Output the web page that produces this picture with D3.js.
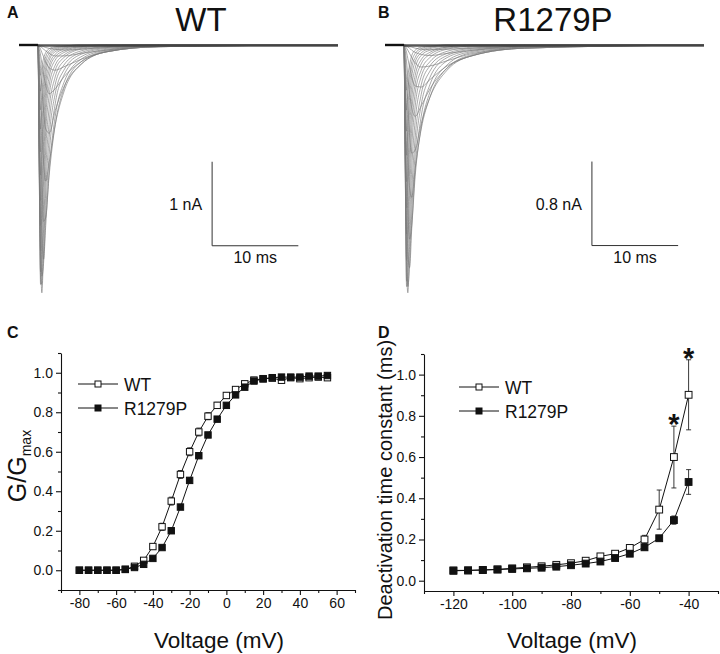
<!DOCTYPE html>
<html><head><meta charset="utf-8">
<script src="https://cdn.jsdelivr.net/npm/d3@7"></script>
<style>
body{margin:0;background:#fff}
svg{display:block}
text{font-family:"Liberation Sans",Arial,Helvetica,sans-serif;fill:#111}
</style>
</head><body>
<svg id="fig" width="720" height="654"></svg>
<script>
// ---------- Panel A/B: current traces (time in ms from step, current in nA) ----------
const traceTimes = [-2.2, 0, 0.15, 0.3, 0.45, 0.65, 0.9, 1.3, 2, 3, 5, 8, 14, 34.8];
const wtTraces = [
  [0,0,0,-0.01,-0.01,-0.02,-0.03,-0.04,-0.05,-0.06,-0.05,-0.03,-0.01,0],
  [0,0,-0.01,-0.02,-0.03,-0.05,-0.07,-0.10,-0.13,-0.13,-0.10,-0.06,-0.02,0],
  [0,0,-0.02,-0.05,-0.09,-0.14,-0.2,-0.27,-0.3,-0.26,-0.17,-0.08,-0.02,0],
  [0,0,-0.05,-0.12,-0.22,-0.35,-0.48,-0.58,-0.52,-0.38,-0.2,-0.08,-0.02,0],
  [0,0,-0.1,-0.28,-0.5,-0.78,-1.0,-1.05,-0.78,-0.5,-0.23,-0.08,-0.02,0],
  [0,0,-0.2,-0.55,-0.95,-1.38,-1.62,-1.4,-0.95,-0.56,-0.23,-0.08,-0.02,0],
  [0,0,-0.38,-1.0,-1.6,-2.1,-2.05,-1.55,-0.95,-0.52,-0.2,-0.07,-0.015,0],
  [0,0,-0.6,-1.5,-2.25,-2.55,-2.15,-1.5,-0.85,-0.45,-0.17,-0.06,-0.01,0],
  [0,0,-0.85,-2.0,-2.75,-2.6,-2.0,-1.3,-0.7,-0.36,-0.14,-0.05,-0.01,0],
  [0,0,-1.1,-2.45,-2.95,-2.45,-1.75,-1.1,-0.58,-0.3,-0.11,-0.04,-0.01,0],
  [0,0,-1.35,-2.75,-2.85,-2.2,-1.5,-0.92,-0.47,-0.24,-0.09,-0.03,0,0],
  [0,0,-1.5,-2.85,-2.6,-1.9,-1.25,-0.75,-0.38,-0.19,-0.07,-0.02,0,0],
  [0,0,-1.55,-2.7,-2.3,-1.62,-1.03,-0.6,-0.3,-0.15,-0.05,-0.02,0,0],
  [0,0,-1.5,-2.45,-2.0,-1.38,-0.85,-0.48,-0.24,-0.12,-0.04,-0.01,0,0],
  [0,0,-1.4,-2.15,-1.72,-1.15,-0.7,-0.38,-0.18,-0.09,-0.03,-0.01,0,0],
  [0,0,-1.25,-1.85,-1.45,-0.95,-0.56,-0.3,-0.14,-0.07,-0.02,0,0,0],
  [0,0,-1.1,-1.55,-1.2,-0.77,-0.45,-0.24,-0.11,-0.05,-0.02,0,0,0],
  [0,0,-0.92,-1.27,-0.97,-0.61,-0.35,-0.18,-0.08,-0.04,-0.01,0,0,0],
  [0,0,-0.75,-1.0,-0.75,-0.47,-0.27,-0.14,-0.06,-0.03,-0.01,0,0,0],
  [0,0,-0.58,-0.77,-0.57,-0.35,-0.2,-0.1,-0.045,-0.02,0,0,0,0],
  [0,0,-0.42,-0.55,-0.4,-0.25,-0.14,-0.07,-0.03,-0.015,0,0,0,0],
  [0,0,-0.28,-0.36,-0.26,-0.16,-0.09,-0.045,-0.02,-0.01,0,0,0,0]
];
const mutTraces = [
  [0,0,0,-0.01,-0.01,-0.015,-0.02,-0.03,-0.04,-0.045,-0.04,-0.03,-0.01,0],
  [0,0,-0.005,-0.01,-0.02,-0.03,-0.05,-0.07,-0.09,-0.1,-0.08,-0.05,-0.02,0],
  [0,0,-0.01,-0.03,-0.05,-0.08,-0.12,-0.17,-0.21,-0.2,-0.15,-0.08,-0.03,0],
  [0,0,-0.03,-0.07,-0.13,-0.21,-0.3,-0.39,-0.4,-0.33,-0.2,-0.1,-0.03,0],
  [0,0,-0.06,-0.16,-0.3,-0.46,-0.6,-0.68,-0.58,-0.42,-0.22,-0.1,-0.03,0],
  [0,0,-0.12,-0.33,-0.58,-0.86,-1.03,-1.0,-0.75,-0.5,-0.24,-0.1,-0.03,0],
  [0,0,-0.22,-0.6,-1.0,-1.36,-1.45,-1.18,-0.8,-0.5,-0.22,-0.09,-0.02,0],
  [0,0,-0.38,-0.98,-1.5,-1.85,-1.72,-1.25,-0.78,-0.45,-0.19,-0.07,-0.02,0],
  [0,0,-0.58,-1.4,-1.98,-2.12,-1.75,-1.18,-0.68,-0.38,-0.15,-0.06,-0.01,0],
  [0,0,-0.8,-1.78,-2.3,-2.1,-1.6,-1.03,-0.57,-0.31,-0.12,-0.05,-0.01,0],
  [0,0,-1.0,-2.1,-2.36,-1.92,-1.4,-0.88,-0.47,-0.25,-0.1,-0.04,-0.01,0],
  [0,0,-1.15,-2.3,-2.2,-1.68,-1.18,-0.72,-0.38,-0.2,-0.08,-0.03,0,0],
  [0,0,-1.22,-2.25,-1.95,-1.43,-0.97,-0.58,-0.3,-0.16,-0.06,-0.02,0,0],
  [0,0,-1.2,-2.05,-1.68,-1.2,-0.8,-0.46,-0.24,-0.12,-0.04,-0.01,0,0],
  [0,0,-1.12,-1.8,-1.42,-1.0,-0.64,-0.37,-0.18,-0.09,-0.03,-0.01,0,0],
  [0,0,-1.0,-1.55,-1.18,-0.8,-0.51,-0.29,-0.14,-0.07,-0.02,0,0,0],
  [0,0,-0.87,-1.3,-0.97,-0.64,-0.4,-0.22,-0.1,-0.05,-0.02,0,0,0],
  [0,0,-0.73,-1.05,-0.77,-0.5,-0.3,-0.16,-0.075,-0.035,-0.01,0,0,0],
  [0,0,-0.58,-0.82,-0.6,-0.38,-0.22,-0.12,-0.05,-0.025,0,0,0,0],
  [0,0,-0.45,-0.62,-0.44,-0.28,-0.16,-0.08,-0.035,-0.015,0,0,0,0],
  [0,0,-0.32,-0.43,-0.3,-0.19,-0.1,-0.05,-0.02,-0.01,0,0,0,0]
];
// scale bars: [time start ms, current at bar bottom nA, time length ms, current length nA]
const wtScaleBar = [20.2, -2.39, 10, 1.0];
const mutScaleBar = [21.8, -1.91, 10, 0.8];
const wtBarLabels = ["1 nA", "10 ms"];
const mutBarLabels = ["0.8 nA", "10 ms"];

// ---------- Panel C: G/Gmax vs voltage ----------
const gvVoltages = [-80,-75,-70,-65,-60,-55,-50,-45,-40,-35,-30,-25,-20,-15,-10,-5,0,5,10,15,20,25,30,35,40,45,50,55];
const gvWT = [0,0,0,0,0,0.004,0.02,0.05,0.12,0.22,0.35,0.485,0.60,0.70,0.78,0.835,0.885,0.915,0.944,0.963,0.97,0.973,0.962,0.975,0.97,0.975,0.978,0.975];
const gvWTerr = [0,0,0,0,0,0.003,0.005,0.008,0.012,0.018,0.02,0.02,0.02,0.02,0.018,0.015,0.012,0.01,0.01,0.008,0.008,0.008,0.01,0.008,0.008,0.008,0.008,0.01];
const gvMut = [0,0,0,0,0,0.005,0.014,0.03,0.06,0.115,0.20,0.32,0.455,0.58,0.685,0.765,0.835,0.888,0.927,0.958,0.969,0.975,0.978,0.978,0.978,0.983,0.983,0.986];
const gvMuterr = [0,0,0,0,0,0.002,0.004,0.005,0.008,0.01,0.012,0.012,0.012,0.012,0.012,0.01,0.01,0.008,0.008,0.006,0.006,0.006,0.006,0.006,0.006,0.006,0.006,0.006];
const gvXTicks = [-80,-60,-40,-20,0,20,40,60];
const gvXMinor = [-90,-70,-50,-30,-10,10,30,50,70];
const gvYTicks = [0.0,0.2,0.4,0.6,0.8,1.0];
const gvYMinor = [-0.1,0.1,0.3,0.5,0.7,0.9,1.1];

// ---------- Panel D: deactivation tau vs voltage ----------
const tauVoltages = [-120,-115,-110,-105,-100,-95,-90,-85,-80,-75,-70,-65,-60,-55,-50,-45,-40];
const tauWT = [0.05,0.05,0.052,0.055,0.06,0.065,0.07,0.077,0.085,0.097,0.118,0.131,0.159,0.20,0.345,0.60,0.902];
const tauWTerr = [0.005,0.005,0.005,0.005,0.005,0.006,0.006,0.007,0.008,0.009,0.01,0.01,0.012,0.02,0.095,0.15,0.17];
const tauMut = [0.048,0.05,0.052,0.054,0.057,0.06,0.063,0.068,0.075,0.083,0.093,0.11,0.131,0.162,0.206,0.294,0.479];
const tauMuterr = [0.004,0.004,0.004,0.004,0.004,0.005,0.005,0.005,0.006,0.006,0.006,0.008,0.01,0.012,0.012,0.02,0.06];
const tauXTicks = [-120,-100,-80,-60,-40];
const tauXMinor = [-130,-110,-90,-70,-50,-30];
const tauYTicks = [0.0,0.2,0.4,0.6,0.8,1.0];
const tauYMinor = [0.1,0.3,0.5,0.7,0.9,1.1];
const starVoltages = [-45,-40];

const seriesNames = ["WT", "R1279P"];

// ================= drawing =================
const svg = d3.select("#fig");
const FONT = '"Liberation Sans",Arial,Helvetica,sans-serif';

function tracePanel(g, traces, xr, bar, barLabels) {
  const x = d3.scaleLinear().domain([traceTimes[0], traceTimes[traceTimes.length-1]]).range(xr);
  const y = d3.scaleLinear().domain([0, -bar[3]]).range([45, 129]);
  const line = d3.line().x((d,i)=>x(traceTimes[i])).y(d=>y(d)).curve(d3.curveMonotoneX);
  g.selectAll("path.tr").data(traces).join("path").attr("class","tr")
    .attr("d", line).attr("fill","none").attr("stroke","#7a7a7a").attr("stroke-width",0.65);
  // baseline band (overlapping traces at zero current)
  g.append("line").attr("x1",x(0)).attr("x2",x(traceTimes[traceTimes.length-1]))
    .attr("y1",y(0)+0.5).attr("y2",y(0)+0.5).attr("stroke","#3a3a3a").attr("stroke-width",2.6).attr("opacity",0.85);
  g.append("line").attr("x1",x(traceTimes[0])).attr("x2",x(0))
    .attr("y1",y(0)).attr("y2",y(0)).attr("stroke","#111").attr("stroke-width",2.4);
  // scale bar
  const bx = x(bar[0]), by = y(bar[1]);
  g.append("path").attr("d", `M${bx},${y(bar[1]+bar[3])}V${by}H${x(bar[0]+bar[2])}`)
    .attr("fill","none").attr("stroke","#333").attr("stroke-width",1);
  g.append("text").attr("x", bx-10).attr("y", (y(bar[1]+bar[3])+by)/2+6)
    .attr("text-anchor","end").attr("font-size",16).text(barLabels[0]);
  g.append("text").attr("x", (bx + x(bar[0]+bar[2]))/2).attr("y", by+17)
    .attr("text-anchor","middle").attr("font-size",16).text(barLabels[1]);
}

tracePanel(svg.append("g"), wtTraces, [19, 338], wtScaleBar, wtBarLabels);
tracePanel(svg.append("g"), mutTraces, [385, 704], mutScaleBar, mutBarLabels);

svg.append("text").attr("x",201).attr("y",31).attr("text-anchor","middle").attr("font-size",33).text("WT");
svg.append("text").attr("x",553).attr("y",31).attr("text-anchor","middle").attr("font-size",33).text("R1279P");

[["A",7,18],["B",378,18],["C",7,338],["D",378,338]].forEach(([t,xx,yy])=>{
  svg.append("text").attr("x",xx).attr("y",yy).attr("font-size",16).attr("font-weight","bold").text(t);
});

function scatterPanel(g, opt) {
  const x = d3.scaleLinear().domain(opt.xd).range(opt.xr);
  const y = d3.scaleLinear().domain(opt.yd).range(opt.yr);
  g.append("g").attr("transform",`translate(0,${opt.yr[0]})`)
    .call(d3.axisBottom(x).tickValues(opt.xt).tickSize(5).tickSizeOuter(0).tickPadding(3).tickFormat(d=>String(d)));
  g.append("g").attr("transform",`translate(0,${opt.yr[0]})`)
    .call(d3.axisBottom(x).tickValues(opt.xm).tickSize(3).tickSizeOuter(0).tickFormat(""))
    .select(".domain").remove();
  g.append("g").attr("transform",`translate(${opt.xr[0]},0)`)
    .call(d3.axisLeft(y).tickValues(opt.yt).tickSize(5).tickSizeOuter(0).tickPadding(3).tickFormat(d3.format(".1f")));
  g.append("g").attr("transform",`translate(${opt.xr[0]},0)`)
    .call(d3.axisLeft(y).tickValues(opt.ym).tickSize(3).tickSizeOuter(0).tickFormat(""))
    .select(".domain").remove();
  g.selectAll(".tick text").attr("font-size",14).attr("font-family",FONT).attr("fill","#111");
  g.selectAll(".domain,.tick line").attr("stroke","#111").attr("stroke-width",1.1);

  const s = opt.ms;
  const series = [
    {v: opt.wt, e: opt.wte, fill: "#fff"},
    {v: opt.mut, e: opt.mute, fill: "#111"}
  ];
  series.forEach(ser=>{
    const pts = opt.volts.map((vv,i)=>({x:vv, y:ser.v[i], e:ser.e[i]}));
    g.append("path").datum(pts).attr("d", d3.line().x(d=>x(d.x)).y(d=>y(d.y)))
      .attr("fill","none").attr("stroke","#111").attr("stroke-width",1);
    const eb = g.append("g");
    pts.filter(d=>d.e>0).forEach(d=>{
      const cx = x(d.x), t = y(d.y+d.e), b = y(d.y-d.e);
      eb.append("path").attr("d",`M${cx},${t}V${b}M${cx-2.5},${t}H${cx+2.5}M${cx-2.5},${b}H${cx+2.5}`)
        .attr("stroke","#222").attr("stroke-width",0.9).attr("fill","none");
    });
    g.append("g").selectAll("rect").data(pts).join("rect")
      .attr("x",d=>x(d.x)-s/2).attr("y",d=>y(d.y)-s/2).attr("width",s).attr("height",s)
      .attr("fill",ser.fill).attr("stroke","#111").attr("stroke-width",1);
  });
  seriesNames.forEach((nm,i)=>{
    const ly = opt.leg[1] + i*24;
    g.append("line").attr("x1",opt.leg[0]).attr("x2",opt.leg[0]+40).attr("y1",ly).attr("y2",ly)
      .attr("stroke","#111").attr("stroke-width",1);
    g.append("rect").attr("x",opt.leg[0]+20-3).attr("y",ly-3).attr("width",6).attr("height",6)
      .attr("fill", i===0?"#fff":"#111").attr("stroke","#111").attr("stroke-width",1);
    g.append("text").attr("x",opt.leg[0]+46).attr("y",ly+6.5).attr("font-size",17.5).text(nm);
  });
  g.append("text").attr("x",opt.xlab[0]).attr("y",opt.xlab[1]).attr("text-anchor","middle")
    .attr("font-size",22.5).text("Voltage (mV)");
  return {x, y};
}

scatterPanel(svg.append("g"), {
  xd:[-90,70], xr:[61,355], yd:[-0.1,1.1], yr:[590,353],
  xt:gvXTicks, xm:gvXMinor, yt:gvYTicks, ym:gvYMinor,
  volts:gvVoltages, wt:gvWT, wte:gvWTerr, mut:gvMut, mute:gvMuterr,
  ms:6.4, leg:[78,384], xlab:[219,648]
});
const yl = svg.append("text").attr("transform","translate(26,466) rotate(-90)").attr("text-anchor","middle").attr("font-size",25);
yl.append("tspan").text("G/G");
yl.append("tspan").attr("font-size",14).attr("dy",5).text("max");

const dPanel = scatterPanel(svg.append("g"), {
  xd:[-130,-30], xr:[424,718], yd:[-0.05,1.1], yr:[591,354],
  xt:tauXTicks, xm:tauXMinor, yt:tauYTicks, ym:tauYMinor,
  volts:tauVoltages, wt:tauWT, wte:tauWTerr, mut:tauMut, mute:tauMuterr,
  ms:6.8, leg:[459,387], xlab:[572,648]
});
svg.append("text").attr("transform","translate(392,480) rotate(-90)").attr("text-anchor","middle")
  .attr("font-size",20).text("Deactivation time constant (ms)");
starVoltages.forEach(v=>{
  const i = tauVoltages.indexOf(v);
  svg.append("text").attr("x",dPanel.x(v)).attr("y",dPanel.y(tauWT[i]+tauWTerr[i])+8)
    .attr("text-anchor","middle").attr("font-size",29).attr("font-weight","bold").text("*");
});
</script>
</body></html>
